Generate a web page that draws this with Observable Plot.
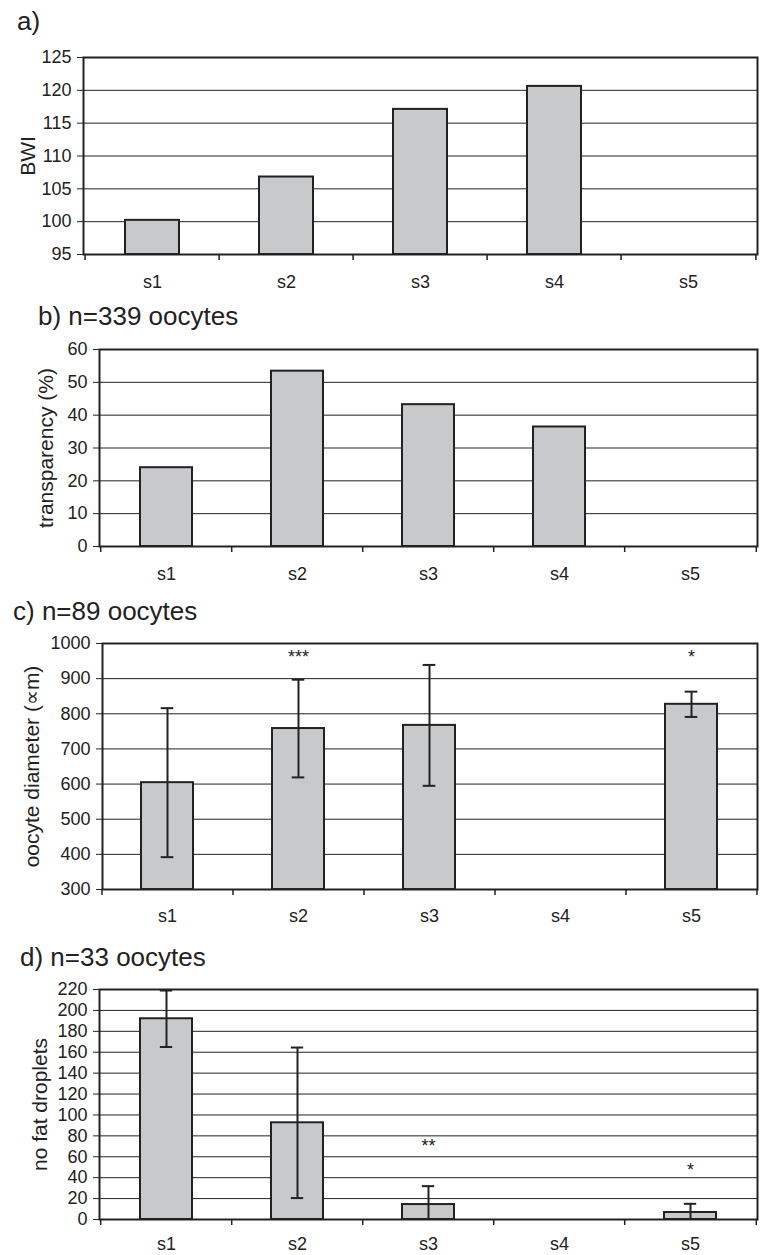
<!DOCTYPE html>
<html><head><meta charset="utf-8">
<script src="https://cdn.jsdelivr.net/npm/d3@7"></script>
<script src="https://cdn.jsdelivr.net/npm/@observablehq/plot@0.6"></script>
<style>
body{margin:0;background:#fff;width:760px;height:1255px;position:relative;overflow:hidden;font-family:"Liberation Sans",Arial,sans-serif;color:#222}
.title{position:absolute;font-size:26px;line-height:26px;white-space:nowrap}
.panel{position:absolute;left:0}
</style></head><body>
<script>
const categories = ["s1","s2","s3","s4","s5"];

// a) BWI
const bwi = [100.2, 106.8, 117.1, 120.6, null];
const bwiTicks = [95, 100, 105, 110, 115, 120, 125];

// b) transparency (%)
const transparency = [24.0, 53.4, 43.2, 36.4, null];
const transparencyTicks = [0, 10, 20, 30, 40, 50, 60];

// c) oocyte diameter
const diameter = [604, 758, 767, null, 827];
const diameterErr = [212, 139, 172, null, 36];
const diameterStars = [null, "***", null, null, "*"];
const diameterStarLevel = [null, 972, null, null, 972];
const diameterTicks = [300, 400, 500, 600, 700, 800, 900, 1000];

// d) no fat droplets
const droplets = [192, 92.5, 14.3, null, 6.7];
const dropletsErr = [27, 72, 17.6, null, 8.3];
const dropletsStars = [null, null, "**", null, "*"];
const dropletsStarLevel = [null, null, 74, null, 51];
const dropletsTicks = [0, 20, 40, 60, 80, 100, 120, 140, 160, 180, 200, 220];

const titles = ["a)", "b) n=339 oocytes", "c) n=89 oocytes", "d) n=33 oocytes"];
const yLabels = ["BWI", "transparency (%)", "oocyte diameter (\u221Dm)", "no fat droplets"];

const INK = "#222";
const W = 760, MR = 3;

function addTitle(text, x, top) {
  const d = document.createElement("div");
  d.className = "title";
  d.style.left = x + "px";
  d.style.top = top + "px";
  d.textContent = text;
  document.body.appendChild(d);
}

function panel({values, errors, stars, starLevel, ticks, label, layout}) {
  const {top, ml, mt, ih, mb, labelX, xpad} = layout;
  const domain = [ticks[0], ticks[ticks.length - 1]];
  const step = (W - ml - MR) / categories.length;
  const bw = step * 0.4;
  const capW = 13;
  const rows = categories.map((c, i) => ({
    c, v: values[i],
    e: errors ? errors[i] : null,
    s: stars ? stars[i] : null,
    sl: starLevel ? starLevel[i] : null
  }));
  const bars = rows.filter(d => d.v != null);
  const errs = bars.filter(d => d.e != null);
  const st = rows.filter(d => d.s);
  const chart = Plot.plot({
    width: W,
    height: mt + ih + mb,
    marginLeft: ml, marginRight: MR, marginTop: mt, marginBottom: mb,
    style: {fontFamily: '"Liberation Sans", Arial, sans-serif', fontSize: "18px", color: INK, background: "transparent", overflow: "visible"},
    x: {domain: categories, paddingInner: 0.6, paddingOuter: 0.3, axis: null},
    y: {domain, axis: null},
    marks: [
      Plot.ruleY(ticks, {stroke: INK, strokeWidth: 1}),
      Plot.barY(bars, {x: "c", y1: domain[0], y2: "v", fill: "#c8c9cb", stroke: INK, strokeWidth: 2}),
      Plot.ruleX(errs, {x: "c", y1: d => d.v - d.e, y2: d => d.v + d.e, stroke: INK, strokeWidth: 2, clip: true}),
      Plot.tickY(errs, {x: "c", y: d => d.v + d.e, inset: (bw - capW) / 2, stroke: INK, strokeWidth: 2, clip: true}),
      Plot.tickY(errs, {x: "c", y: d => d.v - d.e, inset: (bw - capW) / 2, stroke: INK, strokeWidth: 2, clip: true}),
      Plot.text(st, {x: "c", y: "sl", text: "s", fontSize: 18, dy: 4, fill: INK}),
      Plot.frame({stroke: INK, strokeWidth: 2}),
      Plot.axisY(ticks, {tickSize: 6, tickPadding: 6, stroke: INK, fill: INK, fontSize: 18, tickFormat: d => String(d), label: null}),
      Plot.axisX({tickSize: 0, tickPadding: xpad, fill: INK, fontSize: 18, label: null}),
      Plot.ruleX(categories, {x: d => d, dx: -step / 2, y1: domain[0], y2: domain[0], insetBottom: -6, stroke: INK, strokeWidth: 1.5}),
      Plot.ruleX([categories[categories.length - 1]], {x: d => d, dx: step / 2, y1: domain[0], y2: domain[0], insetBottom: -6, stroke: INK, strokeWidth: 1.5}),
      Plot.text([label], {frameAnchor: "left", textAnchor: "middle", rotate: -90, dx: labelX - ml, fontSize: 21, fill: INK})
    ]
  });
  chart.classList.add("panel");
  chart.style.position = "absolute";
  chart.style.top = top + "px";
  chart.style.left = "0px";
  document.body.appendChild(chart);
}

addTitle(titles[0], 17, 8);
addTitle(titles[1], 38, 303);
addTitle(titles[2], 13, 598);
addTitle(titles[3], 20, 944);

panel({values: bwi, ticks: bwiTicks, label: yLabels[0],
  layout: {top: 40, ml: 83, mt: 17, ih: 197, mb: 40, labelX: 28, xpad: 21}});
panel({values: transparency, ticks: transparencyTicks, label: yLabels[1],
  layout: {top: 330, ml: 99, mt: 19, ih: 197, mb: 40, labelX: 46, xpad: 21}});
panel({values: diameter, errors: diameterErr, stars: diameterStars, starLevel: diameterStarLevel,
  ticks: diameterTicks, label: yLabels[2],
  layout: {top: 625, ml: 102, mt: 18, ih: 246, mb: 40, labelX: 32, xpad: 20}});
panel({values: droplets, errors: dropletsErr, stars: dropletsStars, starLevel: dropletsStarLevel,
  ticks: dropletsTicks, label: yLabels[3],
  layout: {top: 975, ml: 99, mt: 14, ih: 230, mb: 36, labelX: 40, xpad: 18}});
</script>
</body></html>
